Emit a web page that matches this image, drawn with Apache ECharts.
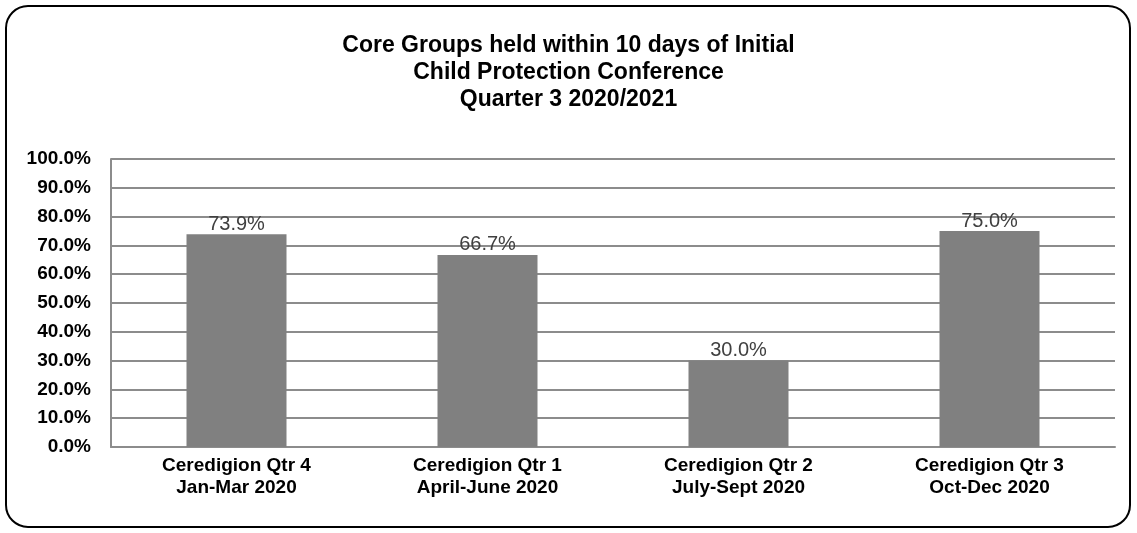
<!DOCTYPE html>
<html>
<head>
<meta charset="utf-8">
<script src="https://cdn.jsdelivr.net/npm/echarts@6/dist/echarts.min.js"></script>
<style>
  html, body { margin: 0; padding: 0; background: #fff; }
  #chart { width: 1137px; height: 533px; }
</style>
</head>
<body>
<div id="chart"></div>
<script>
const categories = [
    'Ceredigion Qtr 4\nJan-Mar 2020',
    'Ceredigion Qtr 1\nApril-June 2020',
    'Ceredigion Qtr 2\nJuly-Sept 2020',
    'Ceredigion Qtr 3\nOct-Dec 2020'
];
const values = [73.9, 66.7, 30.0, 75.0];
const titleText = 'Core Groups held within 10 days of Initial\nChild Protection Conference\nQuarter 3 2020/2021';

const font = '"Liberation Sans", Arial, sans-serif';

const chart = echarts.init(document.getElementById('chart'), null, { renderer: 'canvas' });
const option = {
    animation: false,
    backgroundColor: '#fff',
    title: {
        text: titleText,
        left: 'center',
        top: 27,
        textStyle: {
            fontFamily: font,
            fontSize: 23,
            fontWeight: 'bold',
            color: '#000',
            lineHeight: 27
        }
    },
    graphic: [{
        type: 'rect',
        shape: { x: 6, y: 6, width: 1124, height: 521, r: 22 },
        style: { fill: 'none', stroke: '#000', lineWidth: 2 },
        silent: true
    }],
    grid: {
        left: 111,
        right: 22,
        top: 159,
        bottom: 86
    },
    xAxis: {
        type: 'category',
        data: categories,
        axisTick: { show: false },
        axisLine: { lineStyle: { color: '#8c8c8c', width: 2 } },
        axisLabel: {
            fontFamily: font,
            fontSize: 19,
            fontWeight: 'bold',
            color: '#000',
            lineHeight: 22,
            margin: 8
        }
    },
    yAxis: {
        type: 'value',
        min: 0,
        max: 100,
        interval: 10,
        axisLine: { show: true, lineStyle: { color: '#8c8c8c', width: 2 } },
        axisTick: { show: false },
        splitLine: { lineStyle: { color: '#8c8c8c', width: 2 } },
        axisLabel: {
            fontFamily: font,
            fontSize: 19,
            fontWeight: 'bold',
            color: '#000',
            margin: 20,
            formatter: v => v.toFixed(1) + '%'
        }
    },
    series: [{
        type: 'bar',
        data: values,
        barWidth: 100,
        itemStyle: { color: '#808080' },
        label: {
            show: true,
            position: 'top',
            distance: 0,
            fontFamily: font,
            fontSize: 20,
            color: '#404040',
            formatter: p => p.value.toFixed(1) + '%'
        }
    }]
};
chart.setOption(option);
</script>
</body>
</html>
